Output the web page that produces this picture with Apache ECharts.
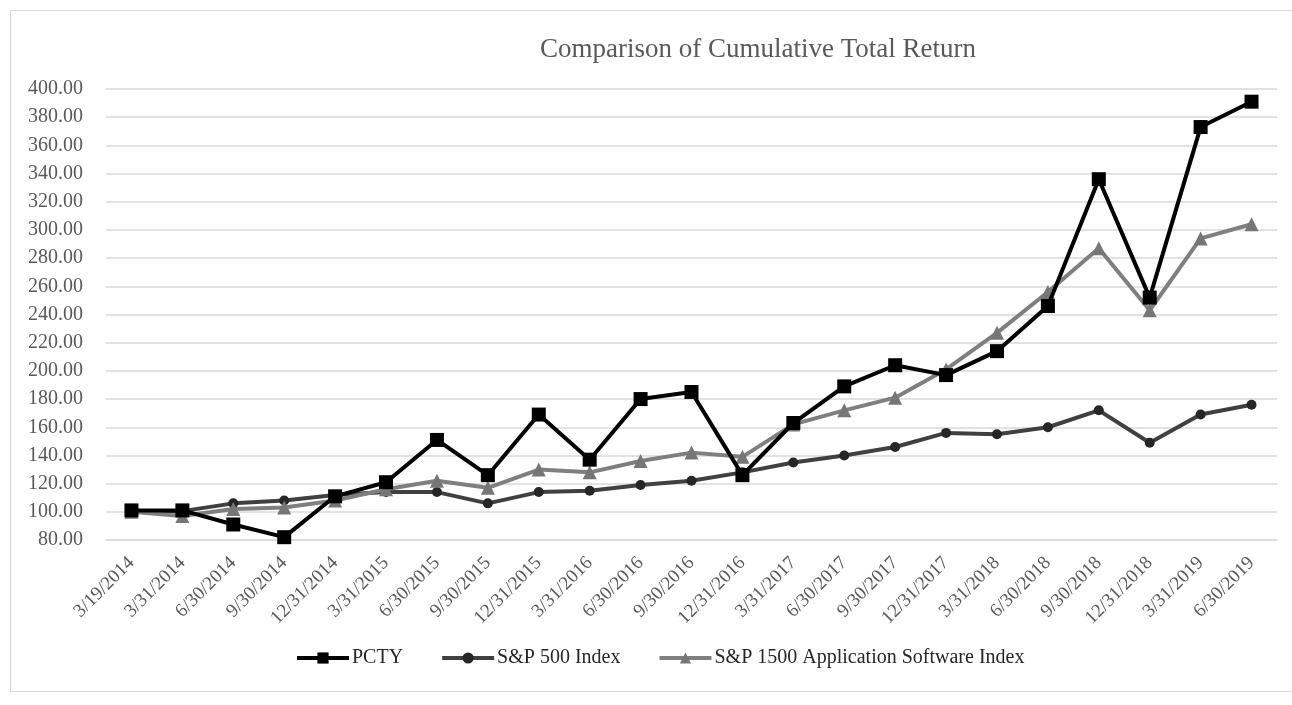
<!DOCTYPE html>
<html>
<head>
<meta charset="utf-8">
<script src="https://cdn.jsdelivr.net/npm/echarts@6/dist/echarts.min.js"></script>
<style>
  html, body { margin: 0; padding: 0; background: #fff; }
  #frame { position: absolute; left: 10px; top: 10px; width: 1290px; height: 680px; border-left: 1px solid #d9d9d9; border-top: 1px solid #d9d9d9; border-bottom: 1px solid #d9d9d9; }
  #chart { position: absolute; left: 0; top: 0; width: 1292px; height: 705px; }
</style>
</head>
<body>
<div id="frame"></div>
<div id="chart"></div>
<script>
const categories = [
  '3/19/2014', '3/31/2014', '6/30/2014', '9/30/2014', '12/31/2014',
  '3/31/2015', '6/30/2015', '9/30/2015', '12/31/2015',
  '3/31/2016', '6/30/2016', '9/30/2016', '12/31/2016',
  '3/31/2017', '6/30/2017', '9/30/2017', '12/31/2017',
  '3/31/2018', '6/30/2018', '9/30/2018', '12/31/2018',
  '3/31/2019', '6/30/2019'
]

const pcty = [101, 101, 91, 82, 111, 121, 151, 126, 169, 137, 180, 185, 126,
  163, 189, 204, 197, 214, 246, 336, 252, 373, 391]

const sp500 = [100, 100.5, 106, 108, 112, 114, 114, 106, 114, 115, 119, 122, 128,
  135, 140, 146, 156, 155, 160, 172, 149, 169, 176]

const sp1500Software = [100, 97, 102, 103, 108, 116, 122, 117, 130, 128, 136, 142, 139,
  162, 172, 181, 201, 227, 256, 287, 243, 294, 304]

const yTicks = { min: 80, max: 400, step: 20 }

const serif = '"Liberation Serif", "Times New Roman", serif'

const chart = echarts.init(document.getElementById('chart'))

const option = {
  backgroundColor: 'transparent',
  animation: false,
  title: {
    text: 'Comparison of Cumulative Total Return',
    left: 535,
    top: 31,
    textStyle: {
      fontFamily: serif,
      fontWeight: 'normal',
      fontSize: 27,
      color: '#595959'
    }
  },
  grid: {
    left: 106,
    right: 15,
    top: 89,
    bottom: 165
  },
  legend: {
    top: 643,
    left: 290,
    itemWidth: 52,
    itemHeight: 14,
    itemGap: 37,
    lineStyle: { width: 4 },
    textStyle: {
      fontFamily: serif,
      fontSize: 20,
      color: '#262626',
      padding: [0, 0, 0, -2]
    },
    data: ['PCTY', 'S&P 500 Index', 'S&P 1500 Application Software Index']
  },
  xAxis: {
    type: 'category',
    boundaryGap: true,
    data: categories,
    axisLine: { show: true, lineStyle: { color: '#d9d9d9', width: 1.5 } },
    axisTick: { show: false },
    axisLabel: {
      interval: 0,
      rotate: 45,
      margin: 20,
      fontFamily: serif,
      fontSize: 19,
      color: '#595959'
    }
  },
  yAxis: {
    type: 'value',
    min: yTicks.min,
    max: yTicks.max,
    interval: yTicks.step,
    axisLine: { show: false },
    axisTick: { show: false },
    axisLabel: {
      margin: 23,
      fontFamily: serif,
      fontSize: 20,
      color: '#595959',
      formatter: (v) => v.toFixed(2)
    },
    splitLine: {
      lineStyle: { color: '#d9d9d9', width: 1.5 }
    }
  },
  series: [
    {
      name: 'PCTY',
      type: 'line',
      data: pcty,
      symbol: 'rect',
      symbolSize: 14,
      z: 4,
      itemStyle: { color: '#000000' },
      lineStyle: { color: '#000000', width: 4 }
    },
    {
      name: 'S&P 500 Index',
      type: 'line',
      data: sp500,
      symbol: 'circle',
      symbolSize: 10,
      z: 2,
      itemStyle: { color: '#262626' },
      lineStyle: { color: '#404040', width: 4 }
    },
    {
      name: 'S&P 1500 Application Software Index',
      type: 'line',
      data: sp1500Software,
      symbol: 'triangle',
      symbolSize: 14,
      z: 3,
      itemStyle: { color: '#767676' },
      lineStyle: { color: '#7f7f7f', width: 4 }
    }
  ]
}

chart.setOption(option)
</script>
</body>
</html>
